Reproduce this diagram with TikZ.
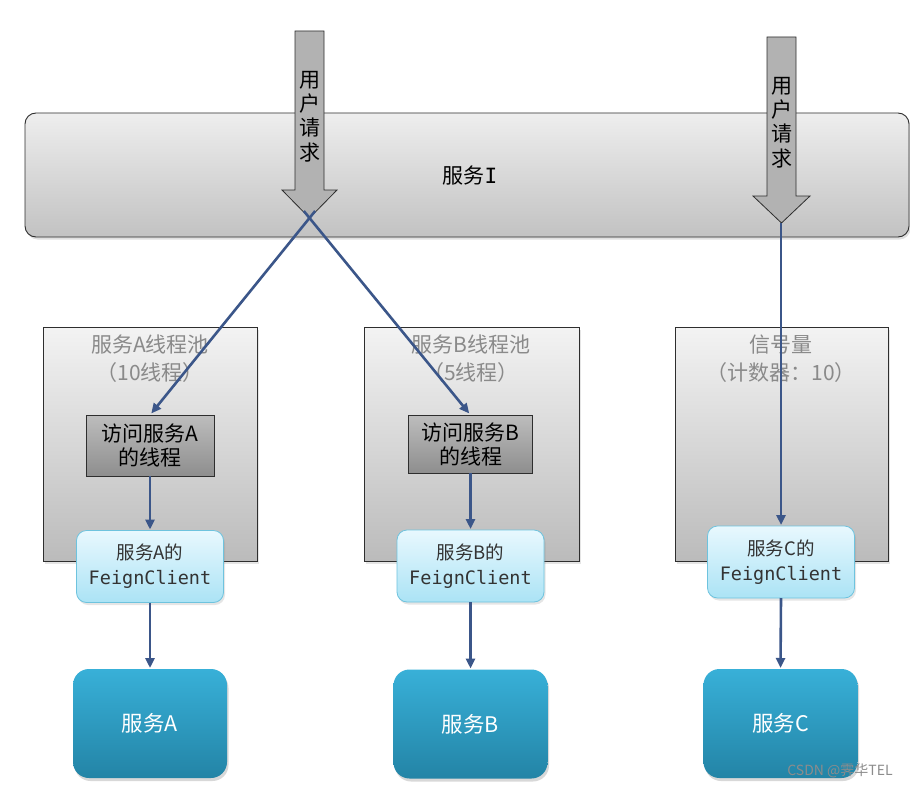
\documentclass[tikz,border=0pt]{standalone}
\usepackage{fontspec}
\setmainfont{Noto Sans CJK SC}
\newfontfamily\monofont{DejaVu Sans Mono}
\usetikzlibrary{arrows.meta,shadows}
\definecolor{barTop}{HTML}{EEEEEE}
\definecolor{barBot}{HTML}{C2C2C2}
\definecolor{poolTop}{HTML}{F3F3F3}
\definecolor{poolBot}{HTML}{BBBBBB}
\definecolor{thrTop}{HTML}{BDBDBD}
\definecolor{thrBot}{HTML}{8E8E8E}
\definecolor{feignTop}{HTML}{E8F8FE}
\definecolor{feignBot}{HTML}{ABE3F5}
\definecolor{feignLine}{HTML}{6EC3DE}
\definecolor{svcTop}{HTML}{38B0D8}
\definecolor{svcBot}{HTML}{2384A6}
\definecolor{connCol}{HTML}{3B5689}
\definecolor{labelGray}{HTML}{8A8A8A}
\definecolor{edgeCol}{HTML}{2E2E2E}
\definecolor{reqFill}{HTML}{B2B2B2}
\begin{document}
\begin{tikzpicture}[x=1pt,y=-1pt,
  box/.style={inner sep=0pt, outer sep=0pt, align=center},
  barbox/.style={box, draw=edgeCol, line width=0.9pt, rounded corners=11pt,
    top color=barTop, bottom color=barBot,
    drop shadow={opacity=0.25, shadow xshift=1.5pt, shadow yshift=-2.5pt}},
  pool/.style={box, draw=edgeCol, line width=0.9pt, top color=poolTop, bottom color=poolBot,
    drop shadow={opacity=0.2, shadow xshift=1.5pt, shadow yshift=-2.5pt}},
  poollabel/.style={box, text=labelGray, align=center, font=\fontsize{21}{28}\selectfont},
  thread/.style={box, draw=edgeCol, line width=0.9pt, top color=thrTop, bottom color=thrBot,
    font=\fontsize{21}{24}\selectfont},
  feign/.style={box, draw=feignLine, line width=0.8pt, rounded corners=10pt,
    top color=feignTop, bottom color=feignBot, text=black!80,
    minimum width=147pt, minimum height=72pt,
    drop shadow={opacity=0.2, shadow xshift=1.5pt, shadow yshift=-2.5pt},
    font=\fontsize{18.5}{25}\selectfont},
  svc/.style={box, rounded corners=16pt, top color=svcTop, bottom color=svcBot, text=white,
    minimum width=154pt, minimum height=109pt,
    drop shadow={opacity=0.3, shadow xshift=1.5pt, shadow yshift=-3pt},
    font=\fontsize{21.5}{24}\selectfont},
  reqarrow/.style={draw=edgeCol, line width=0.8pt, fill=reqFill},
  reqtext/.style={box, align=center, font=\fontsize{21}{24.3}\selectfont},
  conn/.style={draw=connCol, line width=2.6pt, -{Triangle[length=10pt,width=9pt]}}
]
\useasboundingbox (0,0) rectangle (910,789);
\fill[white] (0,0) rectangle (910,789);

% service I bar
\node[barbox, minimum width=884pt, minimum height=124pt] (svcI) at (467,175) {};
\node[box, font=\fontsize{21}{24}\selectfont] (svcIlabel) at (470,176) {服务{\monofont I}};

% user request arrows
\path[reqarrow] (295,31) -- (324,31) -- (324,190) -- (337,190) -- (309.5,218) -- (282,190) -- (295,190) -- cycle;
\coordinate (tipL) at (309.5,218);
\node[reqtext] (reqL) at (309.5,116.5) {用\\户\\请\\求};
\path[reqarrow] (767,37) -- (796,37) -- (796,196) -- (810,196) -- (781.5,223) -- (753,196) -- (767,196) -- cycle;
\coordinate (tipR) at (781,223);
\node[reqtext] (reqR) at (781.5,122.5) {用\\户\\请\\求};

% pools
\node[pool, minimum width=214pt, minimum height=234pt] (poolA) at (150,444) {};
\node[pool, minimum width=215pt, minimum height=234pt] (poolB) at (471.5,444) {};
\node[pool, minimum width=213pt, minimum height=234pt] (poolC) at (781.5,444) {};
\node[poollabel] (poolAlabel) at (150,359) {服务A线程池\\（10线程）};
\node[poollabel] (poolBlabel) at (471,359) {服务B线程池\\（5线程）};
\node[poollabel] (poolClabel) at (781,359) {信号量\\（计数器：10）};

% threads
\node[thread, minimum width=128pt, minimum height=61pt] (threadA) at (150,445.5) {访问服务A\\的线程};
\node[thread, minimum width=124pt, minimum height=58pt] (threadB) at (470.5,444) {访问服务B\\的线程};

% feign clients
\node[feign] (feignA) at (150,566.5) {服务A的\\{\monofont FeignClient}};
\node[feign] (feignB) at (470.5,566) {服务B的\\{\monofont FeignClient}};
\node[feign] (feignC) at (781,562) {服务C的\\{\monofont FeignClient}};

% services
\node[svc] (svcA) at (150,723.5) {服务A};
\node[svc] (svcB) at (470.5,724) {服务B};
\node[svc] (svcC) at (780.5,723.5) {服务C};

% connectors
\draw[conn, shorten <=-9pt, shorten >=2pt] (tipL) -- (threadA.north);
\draw[conn, shorten <=-9pt, shorten >=2pt] (tipL) -- (threadB.north);
\draw[conn, shorten >=1pt] (tipR) -- (feignC.north);
\draw[conn, shorten >=1pt] (threadA.south) -- (feignA.north);
\draw[conn, shorten >=1pt] (threadB.south) -- (feignB.north);
\draw[conn, shorten >=1pt] (feignA.south) -- (svcA.north);
\draw[conn, shorten >=1pt] (feignB.south) -- (svcB.north);
\draw[conn, shorten >=1pt] (feignC.south) -- (svcC.north);

% watermark
\node[box, text=black!45, font=\fontsize{14}{16}\selectfont] (wm) at (840,771) {CSDN @霁华TEL};
\end{tikzpicture}
\end{document}
